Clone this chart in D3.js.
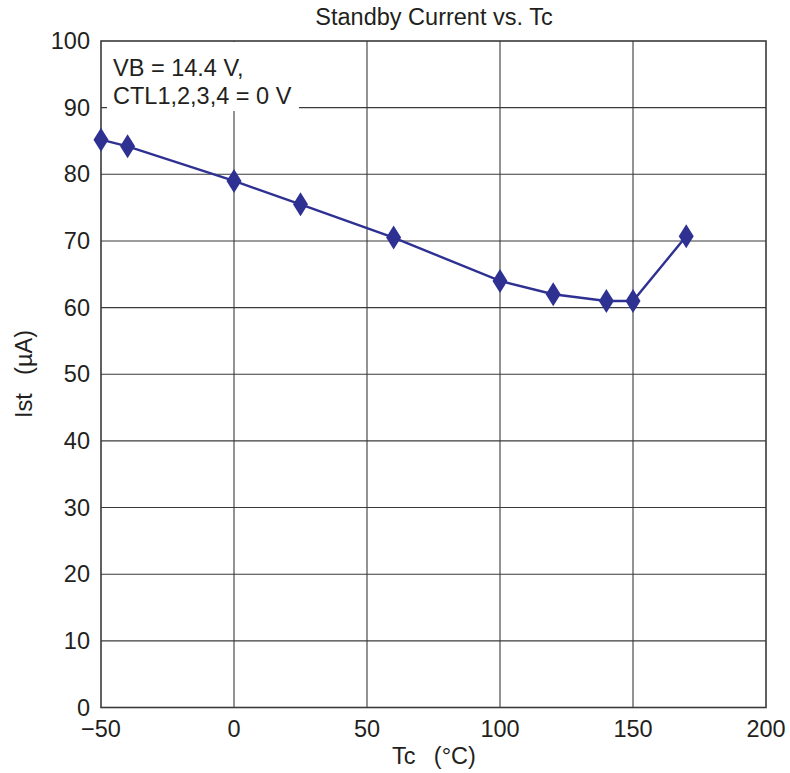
<!DOCTYPE html>
<html><head><meta charset="utf-8">
<script src="https://cdn.jsdelivr.net/npm/d3@7"></script>
<style>body{margin:0;background:#fff}text{font-family:"Liberation Sans",Arial,sans-serif;fill:#231f20}</style>
</head><body><svg id="c" width="790" height="773"></svg>
<script>
const tc = [-50, -40, 0, 25, 60, 100, 120, 140, 150, 170];
const ist = [85.2, 84.2, 79.0, 75.5, 70.5, 64.0, 62.0, 61.0, 61.0, 70.7];
const xTicks = [-50, 0, 50, 100, 150, 200];
const yTicks = [0, 10, 20, 30, 40, 50, 60, 70, 80, 90, 100];
const title = "Standby Current vs. Tc";
const xLabel = "Tc\u2002 (°C)";
const yLabel = "Ist\u2002 (µA)";
const note = ["VB = 14.4 V,", "CTL1,2,3,4 = 0 V"];

const svg = d3.select("#c");
const L = 101, R = 766, T = 41, B = 707.5;
const x = d3.scaleLinear().domain([-50, 200]).range([L, R]);
const y = d3.scaleLinear().domain([0, 100]).range([B, T]);
const grid = "#3a3a3a";
const fs = 23.5;

// grid
svg.append("g").selectAll("line").data(xTicks.slice(1, -1)).join("line")
  .attr("x1", d => x(d)).attr("x2", d => x(d)).attr("y1", T).attr("y2", B)
  .attr("stroke", grid).attr("stroke-width", 1.1);
svg.append("g").selectAll("line").data(yTicks.slice(1, -1)).join("line")
  .attr("x1", L).attr("x2", R).attr("y1", d => y(d)).attr("y2", d => y(d))
  .attr("stroke", grid).attr("stroke-width", 1.1);

// note box
svg.append("rect").attr("x", 107).attr("y", T + 1).attr("width", 192).attr("height", 69).attr("fill", "#fff");
svg.append("g").selectAll("text").data(note).join("text")
  .attr("x", 113).attr("y", (d, i) => 76 + i * 28).attr("font-size", fs).text(d => d);

// frame
svg.append("rect").attr("x", L).attr("y", T).attr("width", R - L).attr("height", B - T)
  .attr("fill", "none").attr("stroke", grid).attr("stroke-width", 1.6);

// axes labels
const fmt = d => d < 0 ? "\u2212" + Math.abs(d) : String(d);
svg.append("g").selectAll("text").data(xTicks).join("text")
  .attr("x", d => x(d)).attr("y", 737).attr("text-anchor", "middle").attr("font-size", fs).text(fmt);
svg.append("g").selectAll("text").data(yTicks).join("text")
  .attr("x", 90).attr("y", d => y(d) + 8).attr("text-anchor", "end").attr("font-size", fs).text(fmt);

svg.append("text").attr("x", 434).attr("y", 25).attr("text-anchor", "middle").attr("font-size", fs).text(title);
svg.append("text").attr("x", 434).attr("y", 764).attr("text-anchor", "middle").attr("font-size", fs).text(xLabel);
svg.append("text").attr("transform", "translate(32,374) rotate(-90)").attr("text-anchor", "middle").attr("font-size", fs).text(yLabel);

// series
const col = "#2e3192";
const pts = tc.map((d, i) => [d, ist[i]]);
svg.append("path").datum(pts)
  .attr("d", d3.line().x(d => x(d[0])).y(d => y(d[1])))
  .attr("fill", "none").attr("stroke", col).attr("stroke-width", 2.4);
svg.append("g").selectAll("path").data(pts).join("path")
  .attr("transform", d => `translate(${x(d[0])},${y(d[1])})`)
  .attr("d", "M0,-12L7.5,0L0,12L-7.5,0Z").attr("fill", col);
</script></body></html>
